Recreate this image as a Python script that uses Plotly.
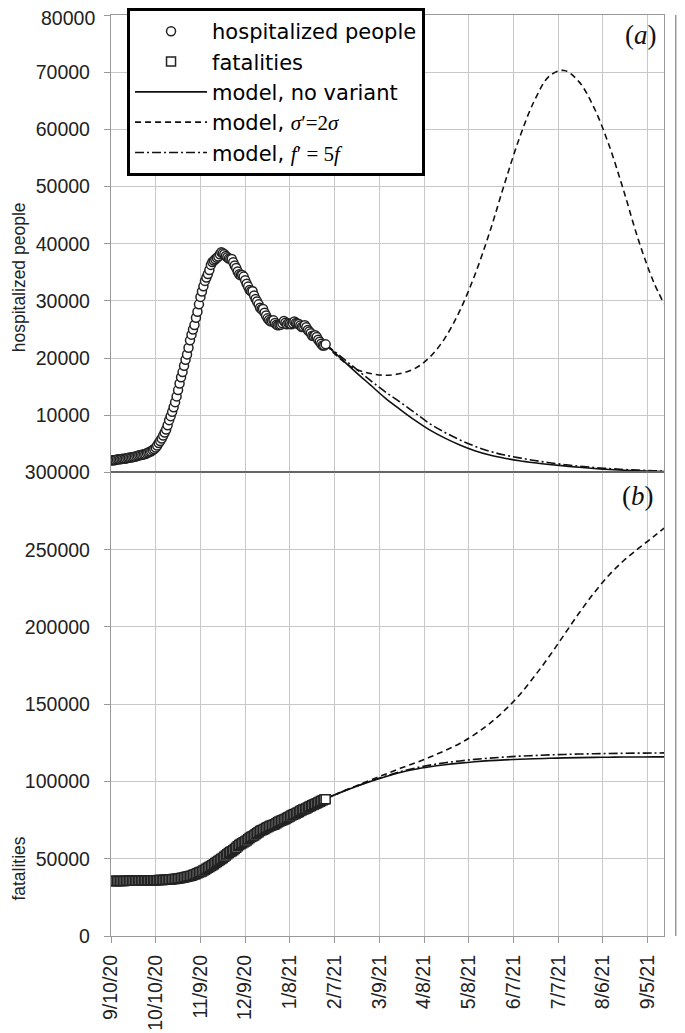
import plotly.graph_objects as go
from plotly.subplots import make_subplots
import pandas as pd

# daily observations, starting 9/10/20
data_start = '2020-09-10'
hospitalized = [
    2100, 2120, 2150, 2180, 2250, 2290, 2310, 2350, 2380, 2400, 2450, 2540, 2580, 2610, 2640, 2700,
    2760, 2830, 2920, 3000, 3050,
    3100, 3180, 3230, 3350, 3500, 3600, 3720, 3920, 4100, 4350, 4700, 5150, 5500, 5950, 6450, 7000,
    7500, 8250, 9150, 9850, 10600, 11400, 12300, 13300, 14400, 15550, 16650, 17550, 18650, 19700, 20650,
    21800, 23100, 24100, 25000, 25800, 27050, 28100, 29400, 30700, 31650, 32550, 33500, 34100, 34700,
    35400, 36300, 36800, 37050, 37300, 37550, 37750, 38150, 38500, 38350, 38150, 37850, 37650, 37400,
    37350, 37350,
    36750, 36200, 35750, 35150, 34650, 34500, 34550, 34250, 33600, 33000, 32500, 31900, 31700, 31700,
    30950, 30350, 29900, 29400, 28800, 28550, 28600, 27950, 27450, 26950, 26650, 26450, 26450, 26600,
    26150, 25850, 25750,
    25800, 25850, 26100, 26500, 26200, 25900, 26100, 26000, 25900, 26100, 26400, 26150, 26050, 25950,
    25700, 25450, 25500, 25750, 25400, 24900, 24650, 24350, 23900, 23850, 24000, 23700, 23200, 22850,
    22500, 22200, 22200,
    22400,
]
fatalities = [
    35563, 35587, 35597, 35603, 35610, 35624, 35633, 35645, 35658, 35668, 35692, 35707, 35724, 35738,
    35758, 35781, 35801, 35818, 35835, 35851, 35875,
    35894, 35918, 35941, 35968, 35986, 36002, 36030, 36061, 36083, 36111, 36140, 36166, 36205, 36246,
    36289, 36372, 36427, 36474, 36543, 36616, 36705, 36832, 36968, 37059, 37210, 37338, 37479, 37700,
    37905, 38122, 38321,
    38618, 38826, 39059, 39412, 39764, 40192, 40638, 41063, 41394, 41750, 42330, 42953, 43589, 44139,
    44683, 45229, 45733, 46464, 47217, 47870, 48569, 49261, 49823, 50453, 51306, 52028, 52850, 53677,
    54363, 54904,
    55576, 56361, 57045, 58038, 58852, 59514, 60078, 60606, 61240, 61739, 62626, 63387, 64036, 64520,
    65011, 65857, 66537, 67220, 67894, 68447, 68799, 69214, 69842, 70395, 70900, 71359, 71620, 71925,
    72370, 73029, 73604,
    74159, 74621, 74985, 75332, 75680, 76329, 76877, 77291, 77911, 78394, 78755, 79203, 79819, 80326,
    80848, 81325, 81800, 82177, 82554, 83157, 83681, 84202, 84674, 85162, 85461, 85881, 86422, 86889,
    87381, 87858, 88279,
    88516,
]

# model projections
model_dates = ['2021-02-01', '2021-02-11', '2021-02-21', '2021-03-03', '2021-03-13', '2021-03-23',
               '2021-04-02', '2021-04-12', '2021-04-22', '2021-05-02', '2021-05-12', '2021-05-22',
               '2021-06-01', '2021-06-11', '2021-06-21', '2021-07-01', '2021-07-11', '2021-07-21',
               '2021-07-31', '2021-08-10', '2021-08-20', '2021-08-30', '2021-09-09', '2021-09-16']
hosp_no_variant = [22400, 20000, 17600, 15300, 13000, 11000, 9100, 7400, 6000, 4800, 3800, 3050,
                   2500, 2050, 1700, 1400, 1150, 900, 700, 520, 380, 280, 200, 160]
hosp_sigma2 = [22400, 19800, 18100, 17300, 17000, 17300, 18200, 20200, 23500, 28300, 34500, 42000,
               50500, 58500, 65000, 69300, 70300, 68300, 63800, 57300, 49200, 40500, 33300, 29500]
hosp_f5 = [22400, 20300, 18200, 16100, 14100, 12300, 10400, 8500, 7000, 5700, 4600, 3700,
           3050, 2550, 2100, 1700, 1380, 1100, 880, 680, 520, 400, 300, 250]
fat_no_variant = [88900, 92900, 96600, 100000, 103100, 105800, 107900, 109500, 110800, 111900,
                  112800, 113500, 114000, 114400, 114750, 115000, 115250, 115450, 115600, 115700,
                  115800, 115850, 115900, 115900]
fat_sigma2 = [88900, 93000, 97000, 100900, 104700, 108500, 112000, 115800, 120000, 124600,
              130500, 137500, 146000, 156000, 168000, 181000, 195000, 209000, 222000, 233500,
              243000, 251000, 258500, 264000]
fat_f5 = [88900, 92950, 96700, 100200, 103400, 106300, 108700, 110600, 112100, 113300, 114300,
          115100, 115800, 116400, 116800, 117200, 117500, 117750, 117950, 118100, 118250, 118350,
          118450, 118500]

tick_dates = ['2020-09-10', '2020-10-10', '2020-11-09', '2020-12-09', '2021-01-08', '2021-02-07',
              '2021-03-09', '2021-04-08', '2021-05-08', '2021-06-07', '2021-07-07', '2021-08-06',
              '2021-09-05']
tick_labels = ['9/10/20', '10/10/20', '11/9/20', '12/9/20', '1/8/21', '2/7/21', '3/9/21', '4/8/21',
               '5/8/21', '6/7/21', '7/7/21', '8/6/21', '9/5/21']
hosp_ticks = [10000, 20000, 30000, 40000, 50000, 60000, 70000, 80000]
fat_ticks = [0, 50000, 100000, 150000, 200000, 250000, 300000]

data_dates = pd.date_range(data_start, periods=len(hospitalized))

serif = '<span style="font-family:Liberation Serif">'
line_styles = [
    ('model, no variant', 'solid', hosp_no_variant, fat_no_variant, 3),
    ('model, ' + serif + '<i>σ</i>′=2<i>σ</i></span>', '6px,4px', hosp_sigma2, fat_sigma2, 4),
    ('model, ' + serif + '<i>f</i>′ = 5<i>f</i></span>', '9px,3px,2px,3px', hosp_f5, fat_f5, 5),
]

fig = make_subplots(rows=2, cols=1, shared_xaxes=True, vertical_spacing=0)

for name, dash, hosp, fat, rank in line_styles:
    fig.add_trace(go.Scatter(x=model_dates, y=hosp, mode='lines', name=name, legendrank=rank,
                             line=dict(color='#111', width=1.6, dash=dash, shape='spline')),
                  row=1, col=1)
    fig.add_trace(go.Scatter(x=model_dates, y=fat, mode='lines', name=name, showlegend=False,
                             line=dict(color='#111', width=1.6, dash=dash, shape='spline')),
                  row=2, col=1)

fig.add_trace(go.Scatter(x=data_dates, y=hospitalized, mode='markers', name='hospitalized people',
                         legendrank=1,
                         marker=dict(symbol='circle', size=9, color='white',
                                     line=dict(color='#222', width=1.5))),
              row=1, col=1)
fig.add_trace(go.Scatter(x=data_dates, y=fatalities, mode='markers', name='fatalities',
                         legendrank=2,
                         marker=dict(symbol='square', size=9, color='white',
                                     line=dict(color='#222', width=1.5))),
              row=2, col=1)

tick_font = dict(family='Liberation Sans, Arial', size=19.5, color='#222')
axis_style = dict(showgrid=True, gridcolor='#c8c8c8', gridwidth=1, showline=True, linecolor='#999',
                  linewidth=1.3, mirror=True, ticks='outside', tickcolor='#999', ticklen=6,
                  tickfont=tick_font, zeroline=False)

x_range = ['2020-09-10', '2021-09-15 23:00']
fig.update_xaxes(axis_style, range=x_range, tickvals=tick_dates, ticktext=tick_labels)
fig.update_xaxes(showticklabels=False, ticks='', row=1, col=1)
fig.update_xaxes(tickangle=-90, ticklabelstandoff=4, row=2, col=1)

split = 0.5033
# the topmost label sits on the page edge, so it is placed a little lower as an annotation
hosp_text = [str(v) for v in hosp_ticks[:-1]] + ['']
fig.update_yaxes(axis_style, range=[0, 80000], tickvals=hosp_ticks, ticktext=hosp_text,
                 domain=[split, 1], ticklabelstandoff=10, row=1, col=1)
fig.update_yaxes(axis_style, range=[0, 300000], tickvals=fat_ticks,
                 ticktext=[str(v) for v in fat_ticks], domain=[0, split], ticklabelstandoff=10,
                 ticklabeloverflow='allow', row=2, col=1)
fig.add_annotation(text=str(hosp_ticks[-1]), xref='paper', yref='y', x=0, y=hosp_ticks[-1],
                   xanchor='right', yanchor='middle', xshift=-14, yshift=-3, showarrow=False,
                   font=tick_font)

title_font = dict(family='Liberation Sans, Arial', size=17.5, color='#222')
fig.add_annotation(text='hospitalized people', xref='paper', yref='paper', x=-0.166, y=0.7154,
                   xanchor='center', yanchor='middle', textangle=-90, showarrow=False,
                   font=title_font)
fig.add_annotation(text='fatalities', xref='paper', yref='paper', x=-0.166, y=0.0734,
                   xanchor='center', yanchor='middle', textangle=-90, showarrow=False,
                   font=title_font)

label_font = dict(family='Liberation Serif, Times New Roman', size=27, color='#111')
fig.add_annotation(text='(<i>a</i>)', xref='paper', yref='paper', x=0.958, y=0.978,
                   xanchor='center', yanchor='middle', showarrow=False, font=label_font)
fig.add_annotation(text='(<i>b</i>)', xref='paper', yref='paper', x=0.953, y=0.4775,
                   xanchor='center', yanchor='middle', showarrow=False, font=label_font)

# dark baseline between panels and the cut-off axis on the right
fig.add_shape(type='line', xref='x domain', yref='y', x0=0, x1=1, y0=0, y1=0,
              line=dict(color='#333', width=1.8), layer='above')
fig.add_shape(type='line', xref='paper', yref='paper', x0=1.0212, x1=1.0212, y0=0, y1=1,
              line=dict(color='#999', width=1.5))

# the page body adds an 8px offset, so the figure is sized to fit the window
fig.update_layout(
    width=677, height=1025,
    margin=dict(l=103, r=21, t=7, b=97, autoexpand=False),
    paper_bgcolor='white', plot_bgcolor='white',
    legend=dict(x=0.029, y=1.0075, xanchor='left', yanchor='top', bgcolor='white',
                bordercolor='black', borderwidth=3, itemwidth=72,
                font=dict(family='DejaVu Sans', size=21, color='black')),
    showlegend=True,
)

fig.write_html("out.html")
